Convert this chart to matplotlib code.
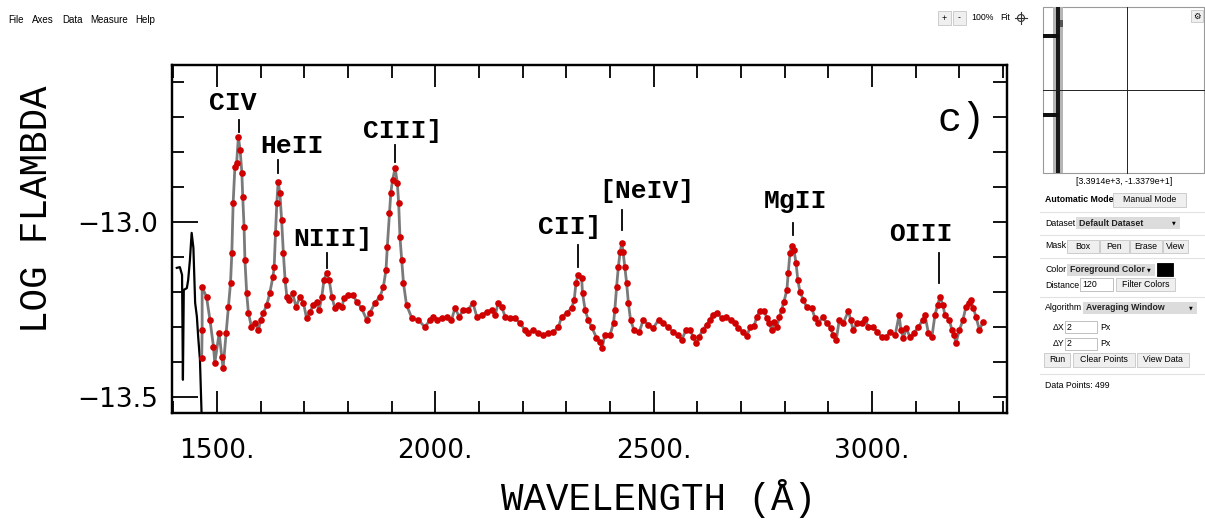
import matplotlib
matplotlib.use('Agg')
import matplotlib.pyplot as plt
from matplotlib.patches import Rectangle, Circle
from matplotlib.ticker import MultipleLocator

# -------------------------------
# data (wavelength in A, log F_lambda)
# -------------------------------
wave = [1465, 1466, 1466, 1476, 1484, 1492, 1495, 1505, 1511, 1514,
        1521, 1526, 1531, 1534, 1537, 1541, 1545, 1549, 1553, 1557,
        1559, 1562, 1564, 1568, 1572, 1579, 1587, 1595, 1600, 1606,
        1614, 1621, 1628, 1631, 1634, 1637, 1640, 1644, 1648, 1652,
        1656, 1660, 1666, 1673, 1681, 1690, 1698, 1705, 1713, 1721,
        1728, 1734, 1740, 1745, 1751, 1757, 1763, 1770, 1778, 1786,
        1791, 1801, 1812, 1820, 1831, 1843, 1850, 1862, 1873, 1881,
        1887, 1890, 1895, 1898, 1902, 1908, 1913, 1916, 1919, 1923,
        1927, 1934, 1946, 1961, 1976, 1988, 1995, 2003, 2015, 2026,
        2037, 2045, 2055, 2064, 2075, 2086, 2095, 2106, 2118, 2129,
        2137, 2144, 2152, 2160, 2171, 2182, 2194, 2205, 2213, 2224,
        2236, 2247, 2259, 2270, 2282, 2289, 2301, 2312, 2318, 2322,
        2327, 2335, 2337, 2343, 2350, 2358, 2369, 2377, 2382, 2388,
        2400, 2408, 2411, 2415, 2419, 2423, 2427, 2430, 2434, 2438,
        2442, 2447, 2455, 2467, 2476, 2488, 2499, 2511, 2522, 2533,
        2545, 2556, 2564, 2574, 2583, 2591, 2597, 2604, 2612, 2621,
        2629, 2635, 2644, 2656, 2666, 2676, 2686, 2694, 2704, 2713,
        2721, 2730, 2736, 2743, 2753, 2759, 2765, 2770, 2776, 2782,
        2788, 2793, 2798, 2805, 2808, 2812, 2816, 2821, 2826, 2830,
        2835, 2843, 2850, 2862, 2869, 2877, 2887, 2896, 2905, 2911,
        2918, 2925, 2934, 2946, 2951, 2957, 2966, 2976, 2984, 2991,
        3002, 3012, 3022, 3032, 3041, 3053, 3062, 3066, 3072, 3078,
        3087, 3096, 3106, 3116, 3121, 3129, 3137, 3144, 3150, 3156,
        3162, 3167, 3177, 3183, 3188, 3192, 3200, 3208, 3215, 3221,
        3226, 3232, 3238, 3246, 3254]
logf = [-13.389, -13.309, -13.186, -13.214, -13.280, -13.357, -13.403, -13.317, -13.386, -13.417,
        -13.317, -13.243, -13.174, -13.089, -12.946, -12.843, -12.831, -12.757, -12.794, -12.860,
        -12.929, -13.014, -13.109, -13.203, -13.260, -13.300, -13.289, -13.309, -13.280, -13.260,
        -13.237, -13.203, -13.157, -13.129, -13.031, -12.946, -12.886, -12.917, -12.994, -13.089,
        -13.166, -13.214, -13.223, -13.203, -13.243, -13.214, -13.231, -13.274, -13.257, -13.237,
        -13.229, -13.251, -13.214, -13.166, -13.146, -13.166, -13.214, -13.246, -13.237, -13.243,
        -13.217, -13.209, -13.209, -13.229, -13.246, -13.280, -13.260, -13.231, -13.214, -13.186,
        -13.137, -13.071, -12.974, -12.917, -12.880, -12.846, -12.889, -12.946, -13.043, -13.109,
        -13.174, -13.237, -13.274, -13.280, -13.300, -13.280, -13.271, -13.280, -13.274, -13.271,
        -13.280, -13.246, -13.271, -13.251, -13.251, -13.231, -13.271, -13.266, -13.257, -13.251,
        -13.266, -13.231, -13.243, -13.271, -13.274, -13.274, -13.289, -13.309, -13.317, -13.309,
        -13.317, -13.323, -13.317, -13.314, -13.300, -13.271, -13.260, -13.246, -13.223, -13.174,
        -13.151, -13.160, -13.203, -13.251, -13.280, -13.300, -13.331, -13.343, -13.360, -13.323,
        -13.323, -13.289, -13.251, -13.186, -13.129, -13.086, -13.060, -13.086, -13.129, -13.174,
        -13.231, -13.280, -13.309, -13.314, -13.280, -13.294, -13.303, -13.280, -13.289, -13.300,
        -13.314, -13.323, -13.337, -13.309, -13.309, -13.329, -13.346, -13.329, -13.309, -13.294,
        -13.280, -13.266, -13.260, -13.274, -13.271, -13.280, -13.289, -13.303, -13.314, -13.326,
        -13.300, -13.297, -13.271, -13.254, -13.254, -13.274, -13.289, -13.309, -13.286, -13.300,
        -13.271, -13.251, -13.229, -13.194, -13.146, -13.089, -13.069, -13.080, -13.117, -13.166,
        -13.200, -13.223, -13.243, -13.246, -13.274, -13.289, -13.271, -13.289, -13.303, -13.323,
        -13.337, -13.280, -13.289, -13.254, -13.280, -13.309, -13.289, -13.289, -13.277, -13.300,
        -13.300, -13.314, -13.329, -13.329, -13.314, -13.323, -13.266, -13.309, -13.331, -13.303,
        -13.329, -13.317, -13.300, -13.280, -13.266, -13.317, -13.329, -13.266, -13.237, -13.214,
        -13.237, -13.266, -13.280, -13.309, -13.323, -13.346, -13.309, -13.280, -13.243, -13.231,
        -13.223, -13.246, -13.271, -13.309, -13.286]

# part of the scanned trace left of the digitised range
scan_wave = [1408, 1415, 1420, 1422, 1424, 1431, 1434, 1438, 1442, 1446, 1450, 1454, 1457, 1461, 1465]
scan_logf = [-13.131, -13.129, -13.151, -13.451, -13.194, -13.189, -13.166, -13.109, -13.031,
             -13.074, -13.231, -13.271, -13.329, -13.394, -13.56]

# emission line identifications
line_names = ['CIV', 'HeII', 'NIII]', 'CIII]', 'CII]', '[NeIV]', 'MgII', 'OIII']
line_wave = [1550, 1640, 1752, 1908, 2327, 2427, 2819, 3153]
# marker stroke (top, bottom) and label anchor
mark_top = [-12.709, -12.823, -13.089, -12.780, -13.066, -12.966, -13.003, -13.089]
mark_bot = [-12.743, -12.860, -13.131, -12.829, -13.129, -13.023, -13.037, -13.174]
label_x = [1537, 1672, 1766, 1926, 2308, 2485, 2824, 3112]
label_y = [-12.660, -12.783, -13.049, -12.740, -13.014, -12.911, -12.940, -13.034]

xticks = [1500, 2000, 2500, 3000]
xticklabels = ['1500.', '2000.', '2500.', '3000.']
yticks = [-13.5, -13.0]
yticklabels = ['\u221213.5', '\u221213.0']

W, H = 1205, 523
fig = plt.figure(figsize=(W / 100, H / 100), dpi=100)
fig.patch.set_facecolor('white')

# -------------------------------
# digitizer chrome, drawn in pixel space
# -------------------------------
ui = fig.add_axes([0, 0, 1, 1])
ui.set_xlim(0, W)
ui.set_ylim(H, 0)
ui.axis('off')


def ui_text(x, y, s, size=6.3, family='Liberation Sans', **kw):
    ui.text(x, y, s, fontsize=size, family=family, va='center', **kw)


def box(x0, y0, x1, y1, fc='#efefef', ec='#c6c6c6', lw=0.6):
    ui.add_patch(Rectangle((x0, y0), x1 - x0, y1 - y0, fc=fc, ec=ec, lw=lw))


def button(x0, y0, x1, y1, label, **kw):
    box(x0, y0, x1, y1)
    ui_text((x0 + x1) / 2, (y0 + y1) / 2, label, ha='center', **kw)


def dropdown(x0, y0, x1, y1, label):
    box(x0, y0, x1, y1, fc='#dcdcdc', ec='none')
    ui_text(x0 + 3, (y0 + y1) / 2, label, weight='bold', color='#222222')
    ui_text(x1 - 6, (y0 + y1) / 2, '\u25bc', size=3.5, family='DejaVu Sans', ha='center')


def entry(x0, y0, x1, y1, value):
    box(x0, y0, x1, y1, fc='white', ec='#b5b5b5')
    ui_text(x0 + 2, (y0 + y1) / 2, value)


def separator(y):
    ui.plot([1040, W], [y, y], color='#e2e2e2', lw=0.8)


for name, x in zip(['File', 'Axes', 'Data', 'Measure', 'Help'], [8, 32, 62, 90, 135]):
    ui_text(x, 20, name, size=7)

button(938, 11, 951, 25, '+')
button(953, 11, 966, 25, '-')
ui_text(982, 18, '100%', ha='center')
ui_text(1005, 18, 'Fit', ha='center')
ui.add_patch(Circle((1021, 18), 3.5, fc='none', ec='#333333', lw=0.8))
ui.plot([1015, 1027], [18, 18], color='#333333', lw=0.8)
ui.plot([1021, 1021], [12, 24], color='#333333', lw=0.8)

# magnifier
box(1043, 7, 1204, 173, fc='white', ec='#9a9a9a', lw=0.8)
ui.add_patch(Rectangle((1053, 7), 10, 166, fc='#b5b5b5', ec='none'))
ui.add_patch(Rectangle((1056, 7), 4, 166, fc='#1a1a1a', ec='none'))
ui.add_patch(Rectangle((1043, 34), 16, 4, fc='#111111', ec='none'))
ui.add_patch(Rectangle((1043, 113), 16, 4, fc='#111111', ec='none'))
ui.add_patch(Rectangle((1060, 20), 3, 7, fc='#555555', ec='none'))
ui.plot([1127, 1127], [7, 173], color='#222222', lw=0.7)
ui.plot([1043, 1204], [90, 90], color='#222222', lw=0.7)
button(1191, 10, 1203, 22, '\u2699', family='DejaVu Sans', size=6)
ui_text(1124, 181, '[3.3914e+3, -1.3379e+1]', ha='center')

# control panel
ui_text(1045, 200, 'Automatic Mode', weight='bold')
button(1113, 193, 1186, 207, 'Manual Mode')
separator(212)
ui_text(1045, 223, 'Dataset')
dropdown(1076, 217, 1180, 229, 'Default Dataset')
separator(235)
ui_text(1045, 246, 'Mask')
button(1067, 240, 1099, 253, 'Box')
button(1100, 240, 1129, 253, 'Pen')
button(1130, 240, 1162, 253, 'Erase')
button(1163, 240, 1188, 253, 'View')
separator(258)
ui_text(1045, 270, 'Color')
dropdown(1067, 264, 1155, 276, 'Foreground Color')
box(1157, 263, 1173, 276, fc='black', ec='black')
ui_text(1045, 285, 'Distance')
entry(1080, 278, 1113, 291, '120')
button(1116, 278, 1175, 291, 'Filter Colors')
separator(297)
ui_text(1045, 308, 'Algorithm')
dropdown(1083, 302, 1197, 314, 'Averaging Window')
ui_text(1053, 327, '\u0394X')
entry(1065, 321, 1097, 333, '2')
ui_text(1100, 327, 'Px')
ui_text(1053, 344, '\u0394Y')
entry(1065, 338, 1097, 350, '2')
ui_text(1100, 344, 'Px')
button(1044, 353, 1070, 367, 'Run')
button(1073, 353, 1135, 367, 'Clear Points')
button(1137, 353, 1189, 367, 'View Data')
separator(374)
ui_text(1045, 385, 'Data Points: 499')

# -------------------------------
# the scanned spectrum panel
# -------------------------------
ax = fig.add_axes([172 / W, 1 - 413 / H, (1007 - 172) / W, (413 - 65) / H])
ax.set_xlim(1397, 3309)
ax.set_ylim(-13.546, -12.551)

ax.plot(scan_wave, scan_logf, color='black', lw=1.6)
ax.plot(wave, logf, color='#7a7a7a', lw=2.0, zorder=2)
ax.plot(wave, logf, 'o', ms=4.8, color='#d10000', mew=0, zorder=3)

for name, xw, y0, y1, lx, ly in zip(line_names, line_wave, mark_top, mark_bot, label_x, label_y):
    ax.plot([xw, xw], [y0, y1], color='black', lw=1.3)
    ax.text(lx, ly, name, ha='center', va='center', fontsize=19,
            family='Liberation Mono', weight='bold')

ax.text(0.946, 0.842, 'c)', transform=ax.transAxes, ha='center', va='center',
        fontsize=29, family='Liberation Mono')

ax.set_xticks(xticks, xticklabels)
ax.xaxis.set_minor_locator(MultipleLocator(100))
ax.set_yticks(yticks, yticklabels)
ax.yaxis.set_minor_locator(MultipleLocator(0.1))
ax.tick_params(which='both', direction='in', top=True, right=False, width=1.3, colors='black')
ax.tick_params(axis='x', which='major', length=16, pad=18, labelsize=19)
ax.tick_params(axis='x', which='minor', length=9)
ax.tick_params(axis='y', which='major', length=19, pad=10, labelsize=19)
ax.tick_params(axis='y', which='minor', length=8.5)

ax2 = ax.twinx()
ax2.set_ylim(ax.get_ylim())
ax2.yaxis.set_major_locator(MultipleLocator(0.1))
ax2.tick_params(direction='in', length=10, width=1.3, labelright=False)

for a in (ax, ax2):
    for sp in a.spines.values():
        sp.set_linewidth(1.6)

ax.set_xlabel('WAVELENGTH (\u00c5)', family='Liberation Mono', fontsize=27)
ax.xaxis.set_label_coords(0.583, -0.247)
ax.xaxis.label.set_va('center')
ax.set_ylabel('LOG FLAMBDA', family='Liberation Mono', fontsize=27)
ax.yaxis.set_label_coords(-0.1617, 0.586)
ax.yaxis.label.set_va('center')

fig.savefig('out.png', dpi=100, facecolor='white')
